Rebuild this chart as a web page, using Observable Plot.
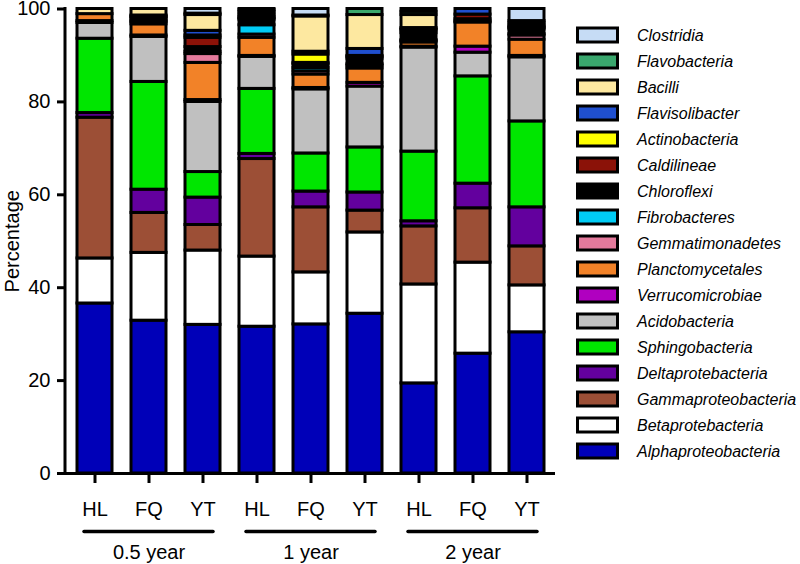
<!DOCTYPE html>
<html>
<head>
<meta charset="utf-8">
<script src="https://cdn.jsdelivr.net/npm/d3@7"></script>
<script src="https://cdn.jsdelivr.net/npm/@observablehq/plot@0.6"></script>
<style>
  body { margin: 0; background: #fff; }
  svg { display: block; }
</style>
</head>
<body>
<div id="chart"></div>
<script>
// ---------- data ----------
const periods = ["0.5 year", "1 year", "2 year"];
const sites = ["HL", "FQ", "YT"];
const yTicks = [0, 20, 40, 60, 80, 100];

// stacking order, bottom to top
const taxa = [
  "Alphaproteobacteria", "Betaprotebacteria", "Gammaproteobacteria", "Deltaprotebacteria",
  "Sphingobacteria", "Acidobacteria", "Verrucomicrobiae", "Planctomycetales",
  "Gemmatimonadetes", "Fibrobacteres", "Chloroflexi", "Caldilineae",
  "Actinobacteria", "Flavisolibacter", "Bacilli", "Flavobacteria", "Clostridia"
];
const taxaColors = [
  "#0000b8", "#ffffff", "#9c4f36", "#63009e",
  "#00e600", "#c0c0c0", "#b000c0", "#f28228",
  "#e47a9c", "#00ccf5", "#000000", "#8b1208",
  "#ffff00", "#1f4fcf", "#fde8a0", "#3aa76d", "#c6dcf5"
];

// values per taxon, bars in order: 0.5y HL,FQ,YT | 1y HL,FQ,YT | 2y HL,FQ,YT
const Alphaproteobacteria = [36.6, 32.9, 32.0, 31.6, 32.1, 34.4, 19.4, 25.8, 30.4];
const Betaprotebacteria   = [ 9.7, 14.6, 16.0, 15.1, 11.2, 17.5, 21.3, 19.6, 10.1];
const Gammaproteobacteria = [30.3,  8.6,  5.5, 21.0, 14.0,  4.7, 12.5, 11.7,  8.4];
const Deltaprotebacteria  = [ 1.0,  5.0,  5.9,  1.1,  3.4,  3.9,  1.1,  5.3,  8.4];
const Sphingobacteria     = [16.0, 23.2,  5.5, 14.0,  8.2,  9.7, 15.0, 23.1, 18.5];
const Acidobacteria       = [ 3.4,  9.7, 15.1,  6.9, 13.8, 13.1, 22.4,  5.1, 13.8];
const Verrucomicrobiae    = [ 0.4,  0.3,  0.4,  0.2,  0.3,  0.8,  0.2,  1.3,  0.3];
const Planctomycetales    = [ 1.5,  2.4,  8.0,  3.9,  2.9,  3.1,  0.9,  5.2,  3.5];
const Gemmatimonadetes    = [ 0.0,  0.5,  1.9,  0.7,  0.7,  0.6,  0.3,  0.2,  0.9];
const Fibrobacteres       = [ 0.0,  0.2,  0.5,  2.0,  0.7,  0.3,  0.2,  0.0,  0.3];
const Chloroflexi         = [ 0.0,  0.5,  1.0,  1.2,  0.8,  1.2,  1.5,  0.5,  1.0];
const Caldilineae         = [ 0.0,  0.3,  2.0,  0.3,  0.3,  0.4,  0.6,  1.0,  0.3];
const Actinobacteria      = [ 0.0,  0.2,  0.5,  0.2,  1.8,  0.2,  0.2,  0.0,  0.2];
const Flavisolibacter     = [ 0.0,  0.2,  1.0,  0.5,  0.6,  1.5,  0.3,  1.2,  0.3];
const Bacilli             = [ 1.1,  1.4,  3.4,  0.6,  7.6,  7.3,  2.8,  0.0,  0.5];
const Flavobacteria       = [ 0.0,  0.0,  0.3,  0.5,  0.2,  1.3,  0.7,  0.0,  0.5];
const Clostridia          = [ 0.0,  0.0,  1.0,  0.2,  1.4,  0.0,  0.6,  0.0,  2.6];

const series = [
  Alphaproteobacteria, Betaprotebacteria, Gammaproteobacteria, Deltaprotebacteria,
  Sphingobacteria, Acidobacteria, Verrucomicrobiae, Planctomycetales,
  Gemmatimonadetes, Fibrobacteres, Chloroflexi, Caldilineae,
  Actinobacteria, Flavisolibacter, Bacilli, Flavobacteria, Clostridia
];

// ---------- build table ----------
const bars = periods.flatMap(p => sites.map(s => p + "|" + s));
const data = [];
bars.forEach((bar, bi) => {
  taxa.forEach((t, ti) => {
    const v = series[ti][bi];
    if (v > 0) data.push({bar, taxon: t, value: v});
  });
});
const groups = periods.map(p => ({period: p, first: p + "|HL", middle: p + "|FQ", last: p + "|YT"}));

const FONT = "'Liberation Sans', Arial, Helvetica, sans-serif";

const plot = Plot.plot({
  width: 800,
  height: 564,
  marginLeft: 65,
  marginRight: 245,
  marginTop: 8.5,
  marginBottom: 91,
  style: {fontFamily: FONT, background: "white", color: "black", overflow: "visible"},
  x: {domain: bars, paddingInner: 0.36, paddingOuter: 0.196},
  y: {domain: [0, 100]},
  color: {domain: taxa, range: taxaColors},
  marks: [
    Plot.barY(data, {x: "bar", y: "value", fill: "taxon", stroke: "black", strokeWidth: 3}),
    Plot.ruleY([0], {stroke: "black", strokeWidth: 3}),
    Plot.axisY({ticks: yTicks, tickSize: 8, tickPadding: 7, fontSize: 20, strokeWidth: 3, label: null}),
    Plot.axisX({tickSize: 10, tickPadding: 18, fontSize: 20, strokeWidth: 3, label: null,
                tickFormat: d => d.split("|")[1]}),
    Plot.ruleY(groups, {y: () => -12.5, x1: "first", x2: "last", stroke: "black",
                        strokeWidth: 3.5, strokeLinecap: "round", insetLeft: 7, insetRight: 7}),
    Plot.text(groups, {x: "middle", y: () => -17, text: "period", fontSize: 20}),
    Plot.text(["Percentage"], {frameAnchor: "left", y: () => 50, rotate: -90, dx: -53,
                               textAnchor: "middle", fontSize: 20, text: d => d})
  ]
});

document.getElementById("chart").appendChild(plot);

// ---------- y axis line and legend ----------
const svg = d3.select(plot);
const ys = plot.scale("y");
const xs = plot.scale("x");
svg.append("line")
  .attr("x1", xs.range[0]).attr("x2", xs.range[0])
  .attr("y1", ys.range[0]).attr("y2", ys.range[1] - 1.5)
  .attr("stroke", "black").attr("stroke-width", 3);

const legendTaxa = taxa.slice().reverse();
const lg = svg.append("g").attr("font-family", FONT).attr("text-anchor", "start");
legendTaxa.forEach((t, i) => {
  const cy = 35 + i * 26;
  lg.append("rect")
    .attr("x", 577.5).attr("y", cy - 7)
    .attr("width", 40).attr("height", 14)
    .attr("fill", taxaColors[taxa.indexOf(t)])
    .attr("stroke", "black").attr("stroke-width", 3);
  lg.append("text")
    .attr("x", 637).attr("y", cy).attr("dy", "0.35em")
    .attr("text-anchor", "start")
    .attr("font-size", 16).attr("font-style", "italic")
    .attr("fill", "black")
    .text(t);
});
</script>
</body>
</html>
